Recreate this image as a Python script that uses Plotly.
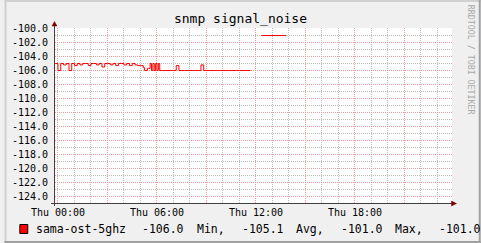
import plotly.graph_objects as go
from datetime import datetime, timedelta

# ---------------- data ----------------
DAY = datetime(2024, 1, 4)  # a Thursday

# series: sama-ost-5ghz (minutes relative to Thu 00:00, value in dB)
minutes_a = [-10, 0, 10, 20, 30, 40, 50, 60, 70, 80, 90, 100, 110, 120, 130,
             140, 150, 160, 170, 180, 190, 200, 210, 220, 230, 240, 250, 260,
             270, 280, 290, 300, 310, 315, 320, 325, 330, 335, 340, 345, 350,
             355, 360, 365, 370, 380, 390, 400, 410, 420, 430, 440, 450, 460,
             470, 480, 490, 500, 510, 520, 530, 540, 550, 560, 570, 580, 590,
             600, 610, 620, 630, 640, 650, 660, 670, 680, 690, 700]
values_a = [-105.0, -106.0, -105.0, -105.2, -105.0, -106.0, -105.0, -105.3,
            -105.0, -105.2, -105.0, -105.0, -105.3, -105.0, -105.0, -105.2,
            -105.0, -105.5, -105.0, -105.0, -105.2, -105.0, -105.3, -105.0,
            -105.0, -105.2, -105.0, -105.3, -105.0, -105.2, -105.3, -105.3,
            -105.6, -106.0, -106.0, -105.7, -105.7, -105.0, -106.0, -105.0,
            -106.0, -105.0, -106.0, -105.0, -106.0, -106.0, -106.0, -106.0,
            -106.0, -106.0, -105.3, -106.0, -106.0, -106.0, -106.0, -106.0,
            -106.0, -106.0, -106.0, -105.2, -106.0, -106.0, -106.0, -106.0,
            -106.0, -106.0, -106.0, -106.0, -106.0, -106.0, -106.0, -106.0,
            -106.0, -106.0, -106.0, -106.0, -106.0, -106.0]
minutes_b = [740, 830]
values_b = [-101.0, -101.0]

series_name = "sama-ost-5ghz"
legend_tokens = ["-106.0", "Min,", "-105.1", "Avg,", "-101.0", "Max,", "-101.0"]

y_tick_values = [-100, -102, -104, -106, -108, -110, -112, -114, -116, -118,
                 -120, -122, -124]
y_tick_labels = ["-100.0", "-102.0", "-104.0", "-106.0", "-108.0", "-110.0",
                 "-112.0", "-114.0", "-116.0", "-118.0", "-120.0", "-122.0",
                 "-124.0"]
x_tick_hours = [0, 3, 6, 9, 12, 15, 18, 21]
x_tick_labels = ["Thu 00:00", "", "Thu 06:00", "", "Thu 12:00", "",
                 "Thu 18:00", ""]
title_text = "snmp signal_noise"
watermark = "RRDTOOL / TOBI OETIKER"

# ---------------- layout geometry ----------------
W, H = 481, 243
L, R, T, B = 51, 29, 28, 40
PW, PH = W - L - R, H - T - B
FONT = "DejaVu Sans Mono"
HALF_PX = 0.5 * 25 / PH  # shift so 1px lines land on pixel centres


def px(x):
    return (x - L) / PW


def py(y):
    return (H - B - y) / PH


def t(m):
    return DAY + timedelta(minutes=m)


x_start = DAY - timedelta(minutes=10.8)
x_end = x_start + timedelta(minutes=3.6 * PW)

# minor grid positions (those not already on a major grid line)
minor_x = [DAY + timedelta(hours=h) for h in range(0, 24) if h not in x_tick_hours]
minor_y = [v for v in range(-125, -99) if v not in y_tick_values]

fig = go.Figure()
fig.add_trace(go.Scatter(x=[t(m) for m in minutes_a], y=values_a, mode="lines",
                         line=dict(color="#FF0000", width=1, shape="hv"),
                         showlegend=False, hoverinfo="skip"))
fig.add_trace(go.Scatter(x=[t(m) for m in minutes_b], y=values_b, mode="lines",
                         line=dict(color="#FF0000", width=1, shape="hv"),
                         showlegend=False, hoverinfo="skip"))
# empty trace so that the overlay (major grid / labels) axes exist
fig.add_trace(go.Scatter(x=[], y=[], xaxis="x2", yaxis="y2",
                         showlegend=False, hoverinfo="skip"))

MGRID = "#EC9C9C"
GRID = "#BDBDBD"
DOT = "1px,1px"
TF = dict(family=FONT, size=10, color="#000000")

fig.update_layout(
    width=W, height=H,
    margin=dict(l=L, r=R, t=T, b=B, pad=0),
    paper_bgcolor="#F0F0F0", plot_bgcolor="#FFFFFF",
    font=dict(family=FONT, color="#000000", size=10),
    title=dict(text=title_text, x=0.5, xref="container", xanchor="center",
               y=1 - 18.5 / H, yref="container", yanchor="middle",
               font=dict(family=FONT, size=13, color="#000000")),
    # minor (gray) grid on the main axes
    xaxis=dict(type="date", range=[x_start, x_end], tickmode="array",
               tickvals=minor_x, showticklabels=False,
               showgrid=True, gridcolor=GRID, griddash=DOT, gridwidth=1,
               showline=False, zeroline=False, ticks=""),
    yaxis=dict(range=[-125 + HALF_PX, -100 + HALF_PX], tickmode="array",
               tickvals=minor_y, showticklabels=False,
               showgrid=True, gridcolor=GRID, griddash=DOT, gridwidth=1,
               showline=False, zeroline=False, ticks=""),
    # major (red) grid + labels on overlay axes
    xaxis2=dict(type="date", matches="x", overlaying="x", anchor="y2",
                side="bottom", tickmode="array",
                tickvals=[DAY + timedelta(hours=h) for h in x_tick_hours],
                ticktext=x_tick_labels,
                showgrid=True, gridcolor=MGRID, griddash=DOT, gridwidth=1,
                showline=False, zeroline=False, ticks="", tickfont=TF,
                ticklabelstandoff=2),
    yaxis2=dict(matches="y", overlaying="y", anchor="x2", side="left",
                tickmode="array", tickvals=y_tick_values,
                ticktext=y_tick_labels,
                showgrid=True, gridcolor=MGRID, griddash=DOT, gridwidth=1,
                showline=False, zeroline=False, ticks="", tickfont=TF,
                ticklabelstandoff=6),
)

shapes = []
AX = "#404040"
ARROW = "#800000"
# axes
shapes.append(dict(type="line", xref="paper", yref="paper",
                   x0=px(50.5), x1=px(50.5), y0=py(206), y1=py(25),
                   line=dict(color=AX, width=1), layer="above"))
shapes.append(dict(type="line", xref="paper", yref="paper",
                   x0=px(47), x1=px(452), y0=py(203.5), y1=py(203.5),
                   line=dict(color=AX, width=1), layer="above"))
# arrows
shapes.append(dict(type="path", xref="paper", yref="paper",
                   path=f"M {px(48)},{py(26)} L {px(53)},{py(26)} L {px(50.5)},{py(21.5)} Z",
                   fillcolor=ARROW, line=dict(color=ARROW, width=0.5), layer="above"))
shapes.append(dict(type="path", xref="paper", yref="paper",
                   path=f"M {px(451.5)},{py(201)} L {px(451.5)},{py(206)} L {px(456.5)},{py(203.5)} Z",
                   fillcolor=ARROW, line=dict(color=ARROW, width=0.5), layer="above"))
# image border (shade)
shapes.append(dict(type="rect", xref="paper", yref="paper",
                   x0=px(0), x1=px(W), y0=py(0), y1=py(2),
                   fillcolor="#D0D0D0", line=dict(width=0), layer="above"))
shapes.append(dict(type="rect", xref="paper", yref="paper",
                   x0=px(0), x1=px(2), y0=py(0), y1=py(H),
                   fillcolor="#D0D0D0", line=dict(width=0), layer="above"))
shapes.append(dict(type="rect", xref="paper", yref="paper",
                   x0=px(W - 2), x1=px(W), y0=py(0), y1=py(H),
                   fillcolor="#A0A0A0", line=dict(width=0), layer="above"))
shapes.append(dict(type="rect", xref="paper", yref="paper",
                   x0=px(0), x1=px(W), y0=py(H - 2), y1=py(H),
                   fillcolor="#A0A0A0", line=dict(width=0), layer="above"))
# legend swatch
shapes.append(dict(type="rect", xref="paper", yref="paper",
                   x0=px(15.5), x1=px(23.5), y0=py(224.5), y1=py(233.5),
                   fillcolor="#FF0000", line=dict(color="#000000", width=1),
                   layer="above"))
fig.update_layout(shapes=shapes)

ann = []
LEG_Y = 229
leg_x = [30, 136.5, 192.5, 237.5, 292.5, 337.5, 392.5, 436.5]
for txt, x in zip([series_name] + legend_tokens, leg_x):
    ann.append(dict(text=txt, xref="paper", yref="paper", x=px(x), y=py(LEG_Y),
                    xanchor="left", yanchor="middle", showarrow=False,
                    font=dict(family=FONT, size=11.5, color="#000000")))
ann.append(dict(text=watermark, xref="paper", yref="paper", x=px(471.5),
                y=py(60), xanchor="center", yanchor="middle", textangle=90,
                showarrow=False, font=dict(family=FONT, size=8.3, color="#A8A8A8")))
fig.update_layout(annotations=ann)

fig.write_html("out.html")
